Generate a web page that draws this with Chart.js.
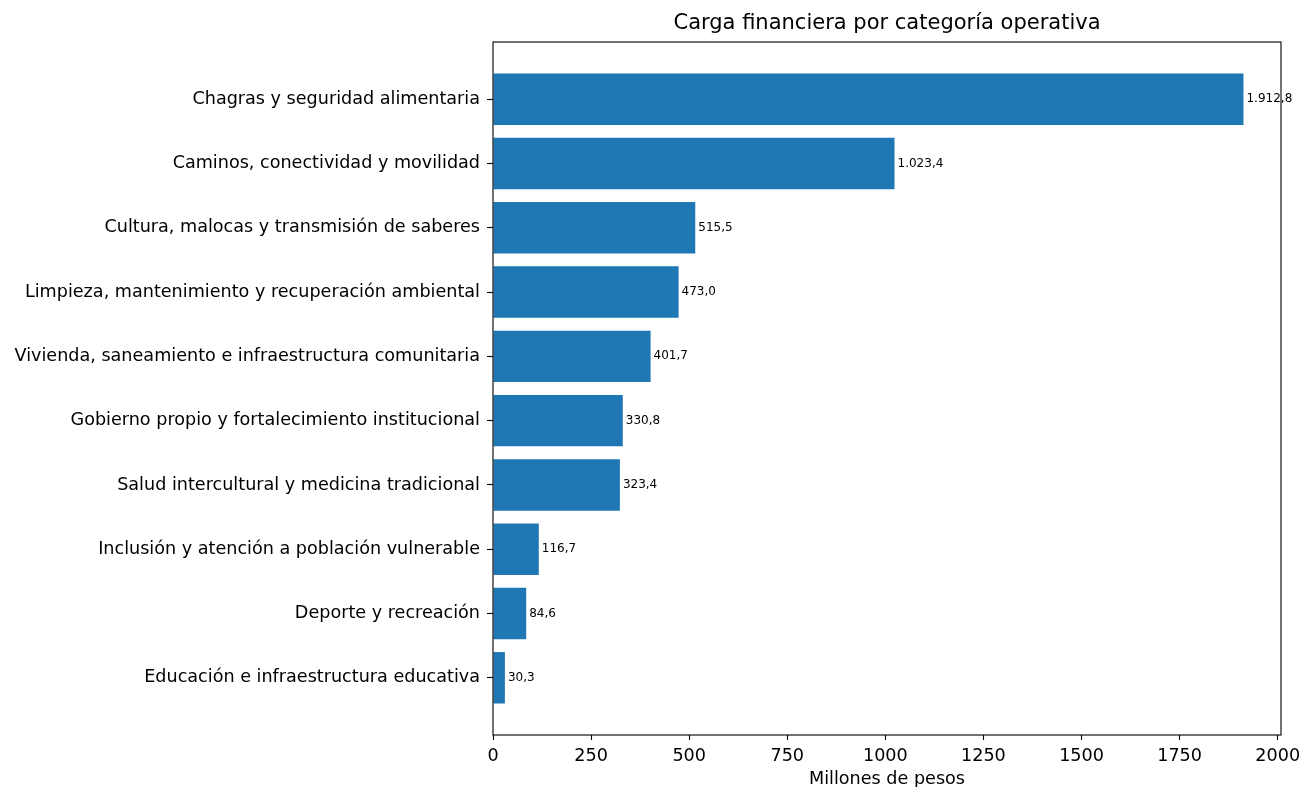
<!DOCTYPE html>
<html>
<head>
<meta charset="utf-8">
<script src="https://cdn.jsdelivr.net/npm/chart.js@4/dist/chart.umd.min.js"></script>
<style>
  html, body { margin: 0; padding: 0; background: #fff; }
  #wrap { width: 1301px; height: 787px; }
</style>
</head>
<body>
<div id="wrap"><canvas id="c" width="1301" height="787"></canvas></div>
<script>
const categories = [
  "Chagras y seguridad alimentaria",
  "Caminos, conectividad y movilidad",
  "Cultura, malocas y transmisión de saberes",
  "Limpieza, mantenimiento y recuperación ambiental",
  "Vivienda, saneamiento e infraestructura comunitaria",
  "Gobierno propio y fortalecimiento institucional",
  "Salud intercultural y medicina tradicional",
  "Inclusión y atención a población vulnerable",
  "Deporte y recreación",
  "Educación e infraestructura educativa"
];
const values = [1912.8, 1023.4, 515.5, 473.0, 401.7, 330.8, 323.4, 116.7, 84.6, 30.3];
const xTicks = [0, 250, 500, 750, 1000, 1250, 1500, 1750, 2000];
const titleText = "Carga financiera por categoría operativa";
const xAxisTitle = "Millones de pesos";

const FONT = "'DejaVu Sans', sans-serif";

function fmt(v) {
  const parts = v.toFixed(1).split(".");
  const intPart = parts[0].replace(/\B(?=(\d{3})+(?!\d))/g, ".");
  return intPart + "," + parts[1];
}

const n = categories.length;
const maxVal = Math.max(...values);
const yMin = -0.4 - 0.05 * (n - 1 + 0.8);
const yMax = (n - 1) + 0.4 + 0.05 * (n - 1 + 0.8);

const extras = {
  id: 'extras',
  afterDatasetsDraw(chart) {
    const ctx = chart.ctx;
    const meta = chart.getDatasetMeta(0);
    ctx.save();
    ctx.fillStyle = '#000';
    ctx.font = "12px " + FONT;
    ctx.textAlign = 'left';
    ctx.textBaseline = 'middle';
    meta.data.forEach((bar, i) => {
      ctx.fillText(fmt(values[i]), bar.x + 3, bar.y);
    });
    ctx.restore();
  },
  afterDraw(chart) {
    const ctx = chart.ctx;
    const a = chart.chartArea;
    ctx.save();
    ctx.strokeStyle = '#000';
    ctx.lineWidth = 1.1;
    ctx.strokeRect(a.left, a.top, a.right - a.left, a.bottom - a.top);
    ctx.fillStyle = '#000';
    ctx.textAlign = 'center';
    ctx.textBaseline = 'alphabetic';
    ctx.font = "21px " + FONT;
    ctx.fillText(titleText, (a.left + a.right) / 2, 29);
    ctx.font = "17.6px " + FONT;
    ctx.fillText(xAxisTitle, (a.left + a.right) / 2, 784);
    ctx.restore();
  }
};

new Chart(document.getElementById('c'), {
  type: 'bar',
  data: {
    datasets: [{
      data: values.map((v, i) => ({ x: v, y: i })),
      backgroundColor: '#1f77b4',
      borderWidth: 0,
      barPercentage: 0.8,
      categoryPercentage: 1.0
    }]
  },
  options: {
    indexAxis: 'y',
    responsive: false,
    animation: false,
    layout: { padding: { left: 0, top: 42, right: 20, bottom: 0 } },
    plugins: { legend: { display: false }, tooltip: { enabled: false }, title: { display: false } },
    scales: {
      x: {
        type: 'linear',
        position: 'bottom',
        offset: false,
        min: 0,
        max: maxVal * 1.05,
        afterBuildTicks: axis => { axis.ticks = xTicks.map(v => ({ value: v })); },
        afterFit: s => { s.height = 52; s.paddingLeft = 0; s.paddingRight = 0; },
        border: { display: false },
        grid: { offset: false, drawOnChartArea: false, drawTicks: true, tickLength: 5, tickColor: '#000', tickWidth: 1.1 },
        ticks: { color: '#000', font: { family: FONT, size: 17.6 }, padding: 6, maxRotation: 0, autoSkip: false,
                 callback: v => String(v) }
      },
      y: {
        type: 'linear',
        position: 'left',
        reverse: true,
        offset: false,
        min: yMin,
        max: yMax,
        afterBuildTicks: axis => { axis.ticks = categories.map((c, i) => ({ value: i })); },
        afterFit: s => { s.width = 493; s.paddingTop = 0; s.paddingBottom = 0; },
        border: { display: false },
        grid: { offset: false, drawOnChartArea: false, drawTicks: true, tickLength: 6, tickColor: '#000', tickWidth: 1.1 },
        ticks: { color: '#000', font: { family: FONT, size: 17.6 }, padding: 7, autoSkip: false,
                 callback: v => categories[v] }
      }
    }
  },
  plugins: [extras]
});
</script>
</body>
</html>
